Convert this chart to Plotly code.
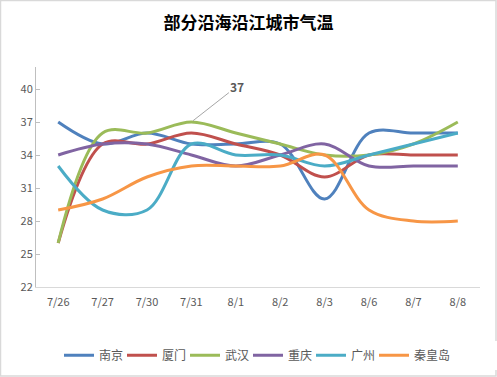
import plotly.graph_objects as go

dates = ["7/26", "7/27", "7/30", "7/31", "8/1", "8/2", "8/3", "8/6", "8/7", "8/8"]
nanjing = [37, 35, 36, 35, 35, 35, 30, 36, 36, 36]
xiamen = [26, 35, 35, 36, 35, 34, 32, 34, 34, 34]
wuhan = [26, 36, 36, 37, 36, 35, 34, 34, 35, 37]
chongqing = [34, 35, 35, 34, 33, 34, 35, 33, 33, 33]
guangzhou = [33, 29, 29, 35, 34, 34, 33, 34, 35, 36]
qinhuangdao = [29, 30, 32, 33, 33, 33, 34, 29, 28, 28]

series = [
    ("南京", nanjing, "#4F81BD"),
    ("厦门", xiamen, "#C0504D"),
    ("武汉", wuhan, "#9BBB59"),
    ("重庆", chongqing, "#8064A2"),
    ("广州", guangzhou, "#4BACC6"),
    ("秦皇岛", qinhuangdao, "#F79646"),
]

FONT = "Noto Sans CJK SC, Microsoft YaHei, sans-serif"
GRAY = "#595959"

fig = go.Figure()
for name, vals, color in series:
    fig.add_trace(go.Scatter(
        x=dates, y=vals, name=name, mode="lines",
        line=dict(color=color, width=3, shape="spline", smoothing=1.0),
    ))
# spacer entry so the last (3-character) legend label is not clipped
fig.add_trace(go.Scatter(x=[None], y=[None], name=" ", mode="lines",
                         line=dict(color="rgba(0,0,0,0)", width=0),
                         hoverinfo="skip", showlegend=True))

fig.add_annotation(
    x="7/31", y=37, text="<b>37</b>", showarrow=True, arrowhead=0,
    arrowwidth=1, arrowcolor="#A6A6A6", ax=46, ay=-36,
    font=dict(family=FONT, size=12, color=GRAY), standoff=2,
)

fig.update_layout(
    width=497, height=377,
    margin=dict(l=36, r=17, t=67, b=90, autoexpand=False),
    paper_bgcolor="white", plot_bgcolor="white",
    title=dict(text="<b>部分沿海沿江城市气温</b>", x=0.5, xanchor="center",
               y=1 - 23 / 377, yanchor="middle",
               font=dict(family=FONT, size=17, color="#000000")),
    font=dict(family=FONT, size=11, color=GRAY),
    showlegend=True,
    legend=dict(orientation="h", x=(67 - 36 - 8) / 444, xanchor="left",
                y=-0.31, yanchor="middle",
                font=dict(family=FONT, size=12, color=GRAY),
                itemwidth=30, entrywidth=18, entrywidthmode="pixels",
                tracegroupgap=0, itemclick=False, itemdoubleclick=False),
    xaxis=dict(type="category", range=[-0.5, 9.5], showgrid=False,
               showline=True, linecolor="#D9D9D9", linewidth=1,
               ticks="", ticklabelstandoff=5,
               tickfont=dict(family=FONT, size=11, color=GRAY),
               fixedrange=True),
    yaxis=dict(range=[22, 42], tick0=22, dtick=3, showgrid=False,
               showline=True, linecolor="#BFBFBF", linewidth=1,
               ticks="inside", ticklen=4, tickcolor="#BFBFBF",
               tickfont=dict(family=FONT, size=11, color=GRAY),
               zeroline=False, fixedrange=True),
    shapes=[dict(type="rect", xref="paper", yref="paper",
                 x0=-35.5 / 444, x1=1 + 16 / 444, y0=-89 / 220, y1=1 + 66.5 / 220,
                 line=dict(color="#D9D9D9", width=1.5), layer="below")],
)

fig.write_html("out.html", config={"displayModeBar": False},
               post_script="document.body.style.margin='0';document.body.style.overflow='hidden';")
